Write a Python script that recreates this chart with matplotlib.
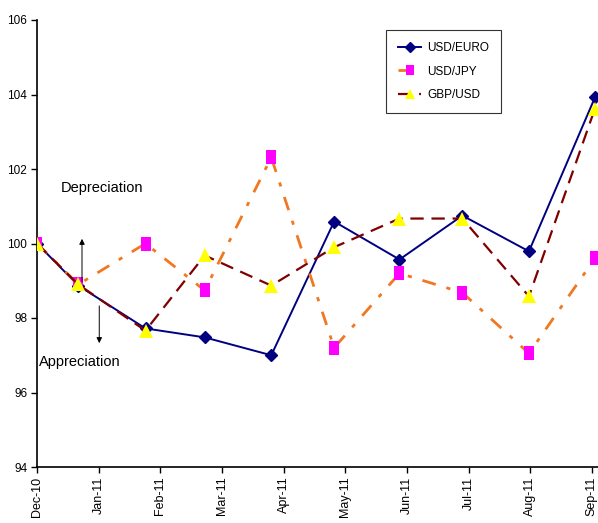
import matplotlib
matplotlib.use("Agg")
import matplotlib.pyplot as plt

plt.rcParams['font.family'] = ['Liberation Sans', 'DejaVu Sans']

months = ["Dec-10", "Jan-11", "Feb-11", "Mar-11", "Apr-11", "May-11",
          "Jun-11", "Jul-11", "Aug-11", "Sep-11"]
obs_pos = [0.0, 0.67, 1.76, 2.72, 3.80, 4.82, 5.88, 6.90, 7.98, 9.05]

usd_euro = [100.0, 98.87, 97.72, 97.48, 97.0, 100.59, 99.57, 100.75, 99.79, 103.92]
usd_jpy = [100.0, 98.9, 100.0, 98.74, 102.31, 97.2, 99.2, 98.68, 97.05, 99.6]
gbp_usd = [100.0, 98.9, 97.66, 99.68, 98.87, 99.9, 100.67, 100.67, 98.58, 103.62]

rect = [(-0.7, -1), (0.7, -1), (0.7, 1), (-0.7, 1), (-0.7, -1)]

fig = plt.figure(figsize=(5.98, 5.23), dpi=100)
ax = fig.add_axes([37/598, 1-467/523, 561/598, 447/523])

ax.plot(obs_pos, usd_euro, color="#000080", lw=1.4, marker="D", ms=6.5,
        mfc="#000080", mec="#000080", label="USD/EURO", zorder=2)
ax.plot(obs_pos, usd_jpy, color="#F07820", lw=2, ls=(0, (5, 4, 1.5, 4)),
        marker=rect, ms=10.5, mfc="#FF00FF", mec="#FF00FF", mew=0,
        label="USD/JPY", zorder=3)
ax.plot(obs_pos, gbp_usd, color="#800000", lw=1.6, ls=(0, (6, 3.5)),
        marker="^", ms=10.5, mfc="#FFFF00", mec="#FFFF00", mew=0,
        label="GBP/USD", zorder=4)

ax.set_ylim(94, 106)
ax.set_yticks([94, 96, 98, 100, 102, 104, 106])
ax.set_xlim(0, 9.1)
ax.set_xticks(range(len(months)))
ax.set_xticklabels(months, rotation=90, fontsize=9)
ax.tick_params(axis='y', labelsize=8.5, direction='out', length=4, width=1, pad=3)
ax.tick_params(axis='x', direction='out', length=4, width=1, pad=3)
for s in ['top', 'right']:
    ax.spines[s].set_visible(False)
for s in ['left', 'bottom']:
    ax.spines[s].set_linewidth(1.2)

leg = ax.legend(loc='upper left', bbox_to_anchor=(349/561, 1-10/447),
                prop={'size': 8.5}, frameon=True,
                fancybox=False, edgecolor='black',
                handlelength=2.0, borderpad=1.0, labelspacing=1.0,
                handletextpad=0.5, markerscale=0.75, borderaxespad=0)
leg.get_frame().set_linewidth(0.8)

ax.text(1.06, 101.48, "Depreciation", fontsize=10.5,
        ha='center', va='center')
ax.text(0.70, 96.82, "Appreciation", fontsize=10.5,
        ha='center', va='center')
ax.annotate("", xy=(0.73, 100.2), xytext=(0.73, 98.9),
            arrowprops=dict(arrowstyle='-|>', color='black', lw=0.7,
                            mutation_scale=8))
ax.annotate("", xy=(1.01, 97.25), xytext=(1.01, 98.4),
            arrowprops=dict(arrowstyle='-|>', color='black', lw=0.7,
                            mutation_scale=8))

fig.savefig("out.png", dpi=100)
